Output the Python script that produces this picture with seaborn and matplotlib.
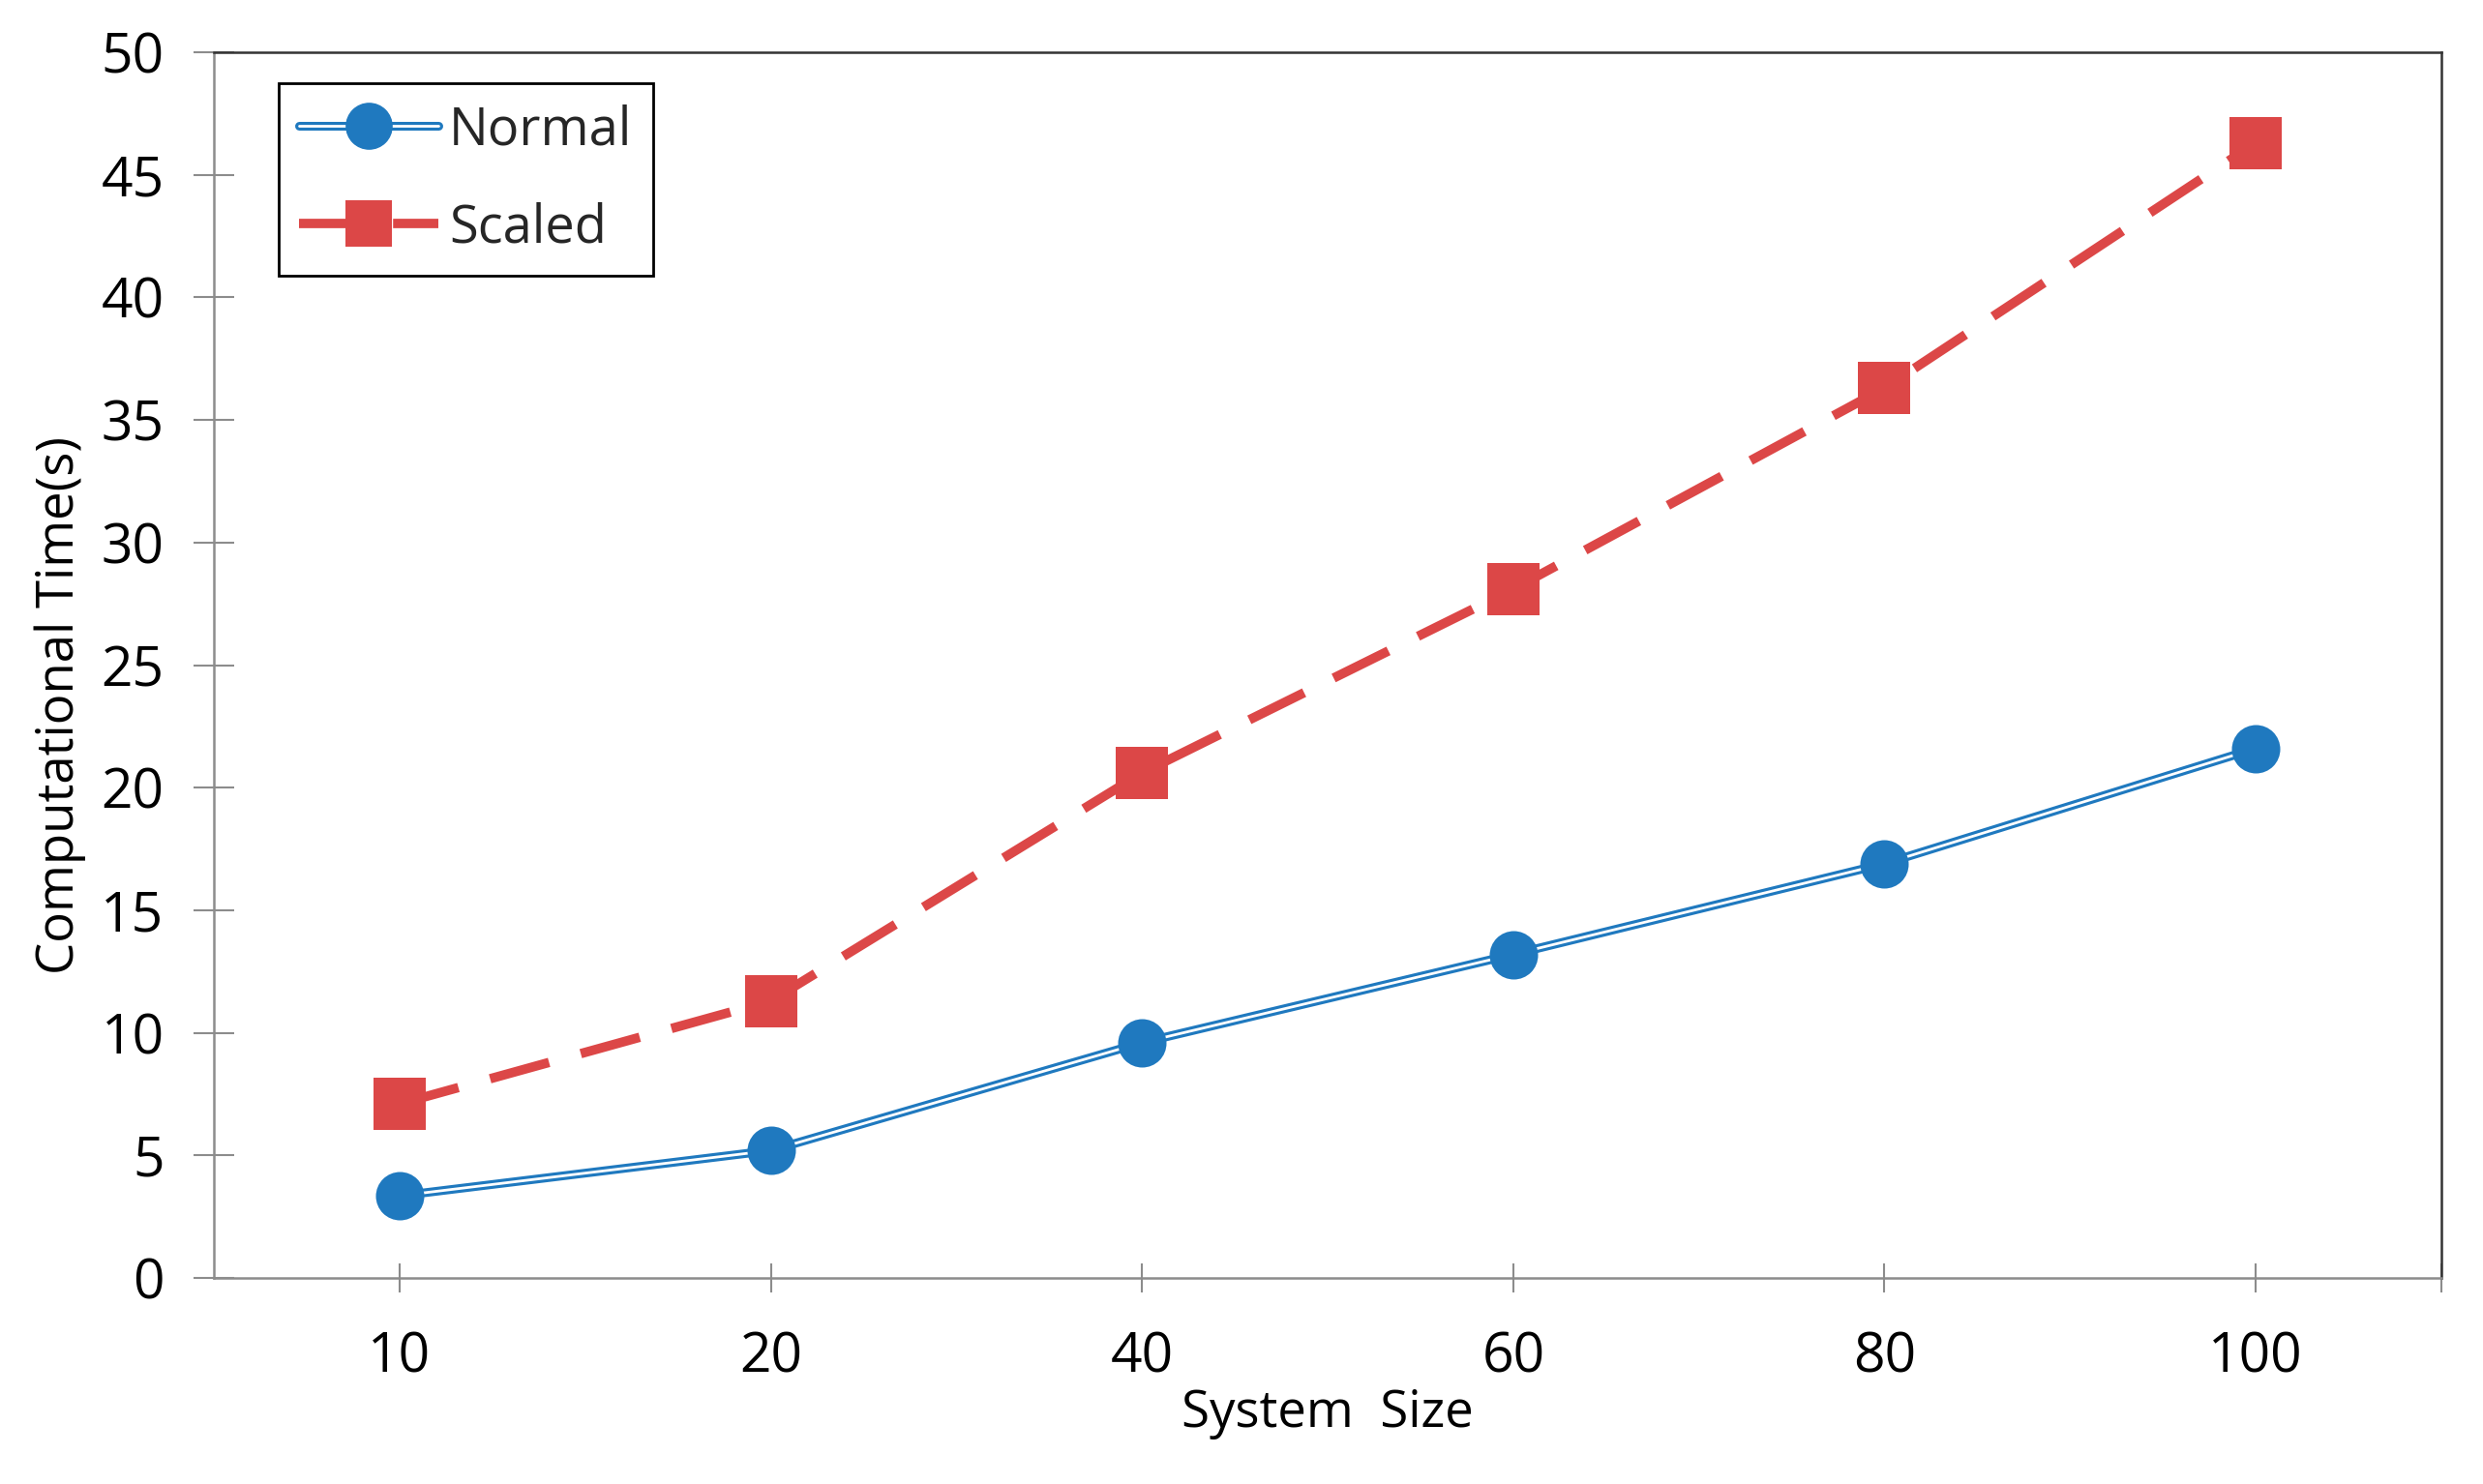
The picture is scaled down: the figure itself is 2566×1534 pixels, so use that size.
import matplotlib.pyplot as plt
import matplotlib
import numpy as np
import seaborn as sns
import pandas as pd
from matplotlib.lines import Line2D

matplotlib.use("Agg")

# values
system_size = ["10", "20", "40", "60", "80", "100"]
normal_time = [3.35, 5.2, 9.6, 13.2, 16.9, 21.6]
scaled_time = [7.1, 11.3, 20.6, 28.1, 36.3, 46.3]
y_ticks = [0, 5, 10, 15, 20, 25, 30, 35, 40, 45, 50]

BLUE = "#1f79bf"
RED = "#dc4747"

sns.set_theme(style="white")
plt.rcParams['font.family'] = ['Open Sans', 'DejaVu Sans']

df = pd.DataFrame({"size": system_size, "Normal": normal_time, "Scaled": scaled_time})

fig = plt.figure(figsize=(25.66, 15.34), dpi=100)
ax = fig.add_axes([221 / 2566, 1 - 1321 / 1534, (2523 - 221) / 2566, (1321 - 54) / 1534])

# double line for Normal: thick blue with thin white inside
sns.lineplot(data=df, x="size", y="Normal", ax=ax, sort=False, color=BLUE,
             linewidth=6.5, zorder=3)
sns.lineplot(data=df, x="size", y="Normal", ax=ax, sort=False, color="white",
             linewidth=2.0, zorder=4)
sns.scatterplot(data=df, x="size", y="Normal", ax=ax, color=BLUE, marker="o",
                s=36 ** 2, linewidth=0, zorder=5)

sns.lineplot(data=df, x="size", y="Scaled", ax=ax, sort=False, color=RED,
             linewidth=7, dashes=False, zorder=3)
ax.lines[-1].set_dashes((6.5, 3.5))
sns.scatterplot(data=df, x="size", y="Scaled", ax=ax, color=RED, marker="s",
                s=39 ** 2, linewidth=0, zorder=5)

ax.set_xlim(-0.5, 5.5)
ax.set_ylim(0, 50)
ax.set_yticks(y_ticks)
ax.set_xticks(range(len(system_size)))
ax.set_xticklabels(system_size)
ax.set_xticks([5.5], minor=True)

ax.tick_params(axis="y", which="major", direction="inout", length=30, width=1.5,
               color="#8c8c8c", left=True, labelsize=41, pad=22, labelcolor="black")
ax.tick_params(axis="x", which="both", direction="inout", length=22, width=1.5,
               color="#8c8c8c", bottom=True, labelsize=41, pad=28, labelcolor="black")

for side in ["left", "bottom"]:
    ax.spines[side].set_color("#8c8c8c")
    ax.spines[side].set_linewidth(1.8)
for side in ["top", "right"]:
    ax.spines[side].set_color("#333333")
    ax.spines[side].set_linewidth(1.8)
ax.spines["top"].set_visible(True)
ax.spines["right"].set_visible(True)

ax.set_xlabel("System  Size", fontsize=38, labelpad=2, color="black")
ax.set_ylabel("Computational Time(s)", fontsize=38, color="black")
ax.yaxis.set_label_coords(-0.0575, 0.467)

normal_handle = (
    Line2D([], [], color=BLUE, linewidth=6.5, solid_capstyle="round"),
    Line2D([], [], color="white", linewidth=2.0),
    Line2D([], [], color=BLUE, marker="o", markersize=34, linestyle="none"),
)
scaled_handle = (
    Line2D([], [], color=RED, linewidth=7, dashes=(6.5, 3.5)),
    Line2D([], [], color=RED, marker="s", markersize=34, linestyle="none", markeredgewidth=0),
)
leg = ax.legend([normal_handle, scaled_handle], ["Normal", "Scaled"],
                loc="upper left", bbox_to_anchor=(0.029, 0.975), borderaxespad=0,
                fontsize=39, handlelength=2.65, labelspacing=0.85, handletextpad=0.2,
                borderpad=0.4, fancybox=False, frameon=True, framealpha=1)
leg.get_frame().set_edgecolor("black")
leg.get_frame().set_linewidth(2)

fig.savefig("out.png", dpi=100)
